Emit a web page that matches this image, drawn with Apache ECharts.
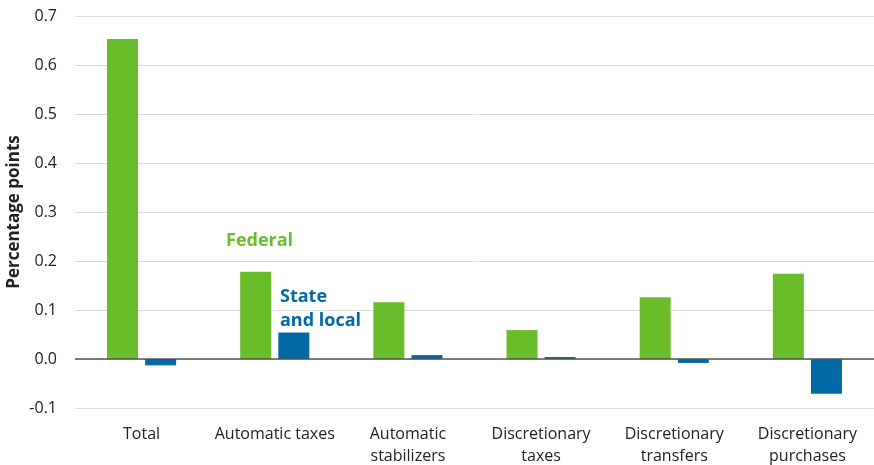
<!DOCTYPE html>
<html><head><meta charset="utf-8">
<script src="https://cdn.jsdelivr.net/npm/echarts@6/dist/echarts.min.js"></script>
<style>html,body{margin:0;padding:0;background:#fff}#c{width:874px;height:465px}</style>
</head><body><div id="c"></div>
<script>
const categories = ['Total', 'Automatic taxes', 'Automatic\nstabilizers', 'Discretionary\ntaxes', 'Discretionary\ntransfers', 'Discretionary\npurchases'];
const federal = [0.653, 0.178, 0.116, 0.059, 0.126, 0.174];
const stateLocal = [-0.013, 0.054, 0.008, 0.004, -0.008, -0.071];
const yTicks = [-0.1, 0.0, 0.1, 0.2, 0.3, 0.4, 0.5, 0.6, 0.7];

const FONT = '"Open Sans", "Noto Sans", sans-serif';
const chart = echarts.init(document.getElementById('c'));
chart.setOption({
  animation: false,
  textStyle: { fontFamily: FONT },
  grid: { left: 75, right: 0, top: 16, bottom: 57, containLabel: false, outerBoundsMode: 'none' },
  xAxis: {
    type: 'category',
    data: categories,
    axisLine: { show: false },
    axisTick: { show: false },
    axisLabel: { interval: 0, color: '#222', fontSize: 16, lineHeight: 22, margin: 15, fontFamily: FONT }
  },
  yAxis: {
    type: 'value',
    min: -0.1, max: 0.7, interval: 0.1,
    name: 'Percentage points',
    nameLocation: 'middle',
    nameGap: 52,
    nameMoveOverlap: false,
    nameTextStyle: { color: '#222', fontSize: 17, fontWeight: 'bold', fontFamily: FONT },
    axisLine: { show: false },
    axisTick: { show: false },
    splitLine: { lineStyle: { color: '#dcdcdc', width: 1 } },
    axisLabel: {
      color: '#222', fontSize: 16, margin: 18, fontFamily: FONT,
      formatter: v => { const t = yTicks.find(x => Math.abs(x - v) < 1e-9); return (t !== undefined ? t : v).toFixed(1); }
    }
  },
  series: [
    {
      name: 'Federal', type: 'bar', data: federal,
      barWidth: 31, barGap: '23%',
      itemStyle: { color: '#6abd2a' },
      markLine: {
        silent: true, symbol: 'none', label: { show: false },
        lineStyle: { color: '#555', width: 1.5, type: 'solid' },
        data: [{ yAxis: 0 }]
      },
      z: 2
    },
    {
      name: 'State and local', type: 'bar', data: stateLocal,
      barWidth: 31,
      itemStyle: { color: '#0069a6' },
      z: 2
    }
  ],
  graphic: [
    { type: 'text', left: 226, top: 232, style: { text: 'Federal', fill: '#6abd2a', font: 'bold 18px ' + FONT } },
    { type: 'text', left: 280, top: 285, style: { text: 'State\nand local', fill: '#0069a6', font: 'bold 18px ' + FONT, lineHeight: 24 } }
  ]
});
</script></body></html>
